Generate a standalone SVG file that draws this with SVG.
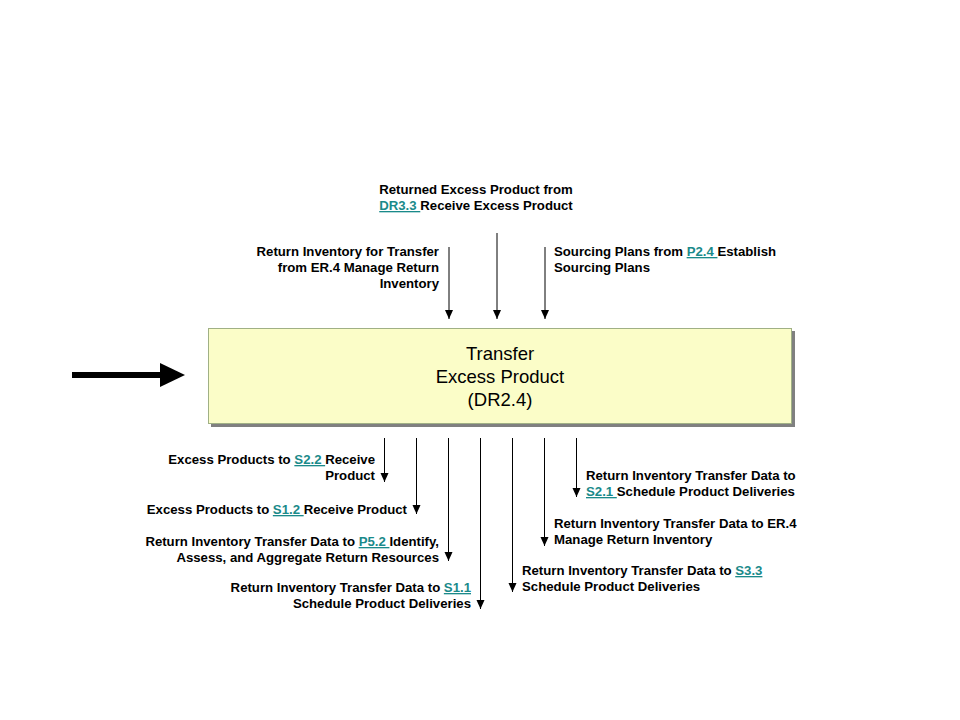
<svg xmlns="http://www.w3.org/2000/svg" width="960" height="720" viewBox="0 0 960 720">
<style>
.t{font-family:"Liberation Sans",Arial,sans-serif;font-size:13.2px;font-weight:bold;fill:#000}
.r{text-anchor:end}
.lk{fill:#1a8a8a;text-decoration:underline}
.c{stroke:#000;stroke-width:1;fill:none;marker-end:url(#ah)}
.bt{font-family:"Liberation Sans",Arial,sans-serif;font-size:18.5px;fill:#000;text-anchor:middle}
</style>
<defs>
<marker id="ah" markerUnits="userSpaceOnUse" markerWidth="10" markerHeight="12" refX="9" refY="5" orient="auto">
<path d="M0,1 L9,5 L0,9 Z" fill="#000"/>
</marker>
</defs>
<rect width="960" height="720" fill="#fff"/>
<g id="process">
<rect x="211" y="331" width="584" height="96" fill="#808080"/>
<rect x="208.5" y="328.5" width="583" height="95" fill="#fbfdc8" stroke="#a0b085" stroke-width="1"/>
<text class="bt" x="500" y="360">Transfer</text>
<text class="bt" x="500" y="383">Excess Product</text>
<text class="bt" x="500" y="406">(DR2.4)</text>
</g>
<g id="input-arrow">
<rect x="72" y="372" width="90" height="6" fill="#000"/>
<path d="M160,363 L185,375 L160,387 Z" fill="#000"/>
</g>
<g id="connectors">
<line class="c" x1="449" y1="247" x2="449" y2="319"/>
<line class="c" x1="497" y1="233" x2="497" y2="319"/>
<line class="c" x1="545" y1="247" x2="545" y2="319"/>
<line class="c" x1="384.5" y1="438" x2="384.5" y2="482"/>
<line class="c" x1="416.5" y1="438" x2="416.5" y2="514"/>
<line class="c" x1="448.5" y1="438" x2="448.5" y2="561"/>
<line class="c" x1="480.5" y1="438" x2="480.5" y2="609"/>
<line class="c" x1="512.5" y1="438" x2="512.5" y2="592"/>
<line class="c" x1="544.5" y1="438" x2="544.5" y2="546"/>
<line class="c" x1="576.5" y1="438" x2="576.5" y2="497"/>
</g>
<g id="labels">
<text class="t" x="476" y="194" text-anchor="middle">Returned Excess Product from</text>
<text class="t" x="476" y="210" text-anchor="middle"><tspan class="lk">DR3.3 </tspan>Receive Excess Product</text>
<text class="t r" x="439" y="256">Return Inventory for Transfer</text>
<text class="t r" x="439" y="272">from ER.4 Manage Return</text>
<text class="t r" x="439" y="288">Inventory</text>
<text class="t" x="554" y="256">Sourcing Plans from <tspan class="lk">P2.4 </tspan>Establish</text>
<text class="t" x="554" y="272">Sourcing Plans</text>
<text class="t r" x="375" y="464">Excess Products to <tspan class="lk">S2.2 </tspan>Receive</text>
<text class="t r" x="375" y="480">Product</text>
<text class="t r" x="407" y="514">Excess Products to <tspan class="lk">S1.2 </tspan>Receive Product</text>
<text class="t r" x="439" y="546">Return Inventory Transfer Data to <tspan class="lk">P5.2 </tspan>Identify,</text>
<text class="t r" x="439" y="562">Assess, and Aggregate Return Resources</text>
<text class="t r" x="471" y="592">Return Inventory Transfer Data to <tspan class="lk">S1.1</tspan></text>
<text class="t r" x="471" y="608">Schedule Product Deliveries</text>
<text class="t" x="586" y="480">Return Inventory Transfer Data to</text>
<text class="t" x="586" y="496"><tspan class="lk">S2.1 </tspan>Schedule Product Deliveries</text>
<text class="t" x="554" y="528">Return Inventory Transfer Data to ER.4</text>
<text class="t" x="554" y="544">Manage Return Inventory</text>
<text class="t" x="522" y="575">Return Inventory Transfer Data to <tspan class="lk">S3.3</tspan></text>
<text class="t" x="522" y="591">Schedule Product Deliveries</text>
</g>
</svg>
